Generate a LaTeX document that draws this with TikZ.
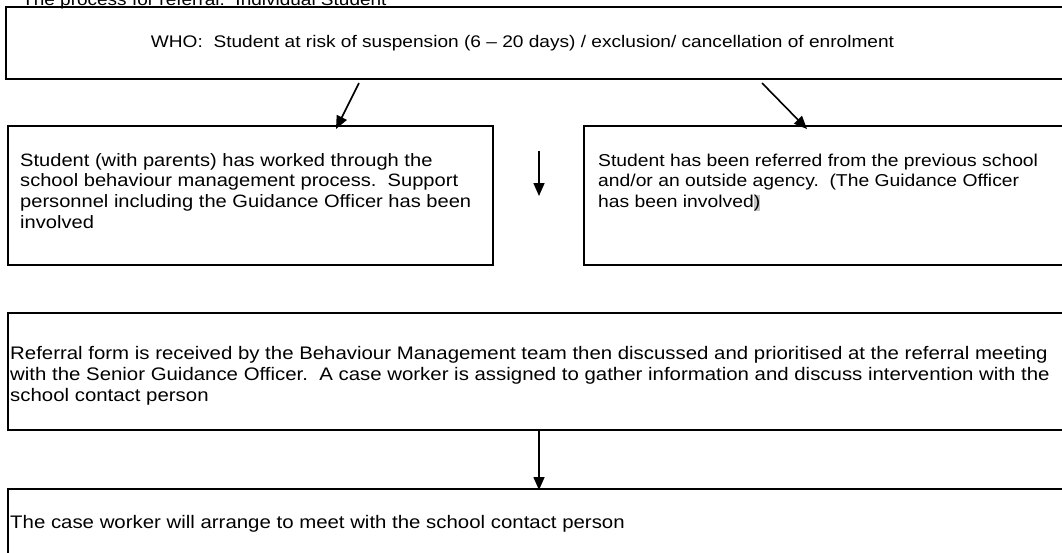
\documentclass[tikz,border=0pt]{standalone}
\usepackage{graphicx}
\usepackage{fontspec}
\setmainfont{Liberation Sans}
\usetikzlibrary{arrows.meta}
\newcommand{\sqz}[1]{\scalebox{1}[0.89]{\begin{tabular}[t]{@{}l@{}}#1\end{tabular}}}
\begin{document}
\begin{tikzpicture}[x=1pt,y=-1pt,
  boxline/.style={draw=black,line width=2.4pt},
  txt/.style={inner sep=0pt,anchor=base west,font=\fontsize{20.1}{23.4}\selectfont},
  conn/.style={line width=1.6pt,-{Triangle[length=13pt,width=11pt]}}]
\useasboundingbox (0,0) rectangle (1062,552);
% title (partly cut off by the page top)
\node[inner sep=0pt,anchor=base west,font=\fontsize{19}{22}\selectfont] (title) at (22,5) {\scalebox{1}[0.88]{The process for referral:\ \ Individual Student}};
% top box
\draw[boxline] (6,7) rectangle (1075,79);
\node[inner sep=0pt,anchor=base,font=\fontsize{19.1}{22}\selectfont] (whotext) at (522.5,47) {\scalebox{1}[0.88]{WHO:\ \ Student at risk of suspension (6 -- 20 days) / exclusion/ cancellation of enrolment}};
% left box
\draw[boxline] (8,126) rectangle (493,265);
\node[txt] (lefttext) at (20,166) {\sqz{Student (with parents) has worked through the\\school behaviour management process.\ \ Support\\personnel including the Guidance Officer has been\\involved}};
% right box
\draw[boxline] (584,126) rectangle (1075,265);
\node[txt,font=\fontsize{19.3}{23.4}\selectfont] (righttext) at (598,166) {\sqz{Student has been referred from the previous school\\and/or an outside agency.\ \ (The Guidance Officer\\has been involved{\setlength\fboxsep{0pt}\colorbox{black!22}{)}}}};
% referral box
\draw[boxline] (8,313) rectangle (1075,430);
\node[txt,font=\fontsize{20.4}{23.8}\selectfont] (reftext) at (10,359) {\sqz{Referral form is received by the Behaviour Management team then discussed and prioritised at the referral meeting\\with the Senior Guidance Officer.\ \ A case worker is assigned to gather information and discuss intervention with the\\school contact person}};
% case worker box
\draw[boxline] (8,489) rectangle (1075,570);
\node[txt,font=\fontsize{20.4}{23.8}\selectfont] (casetext) at (10,528) {\sqz{The case worker will arrange to meet with the school contact person}};
% connectors
\coordinate (a1s) at (359,83); \coordinate (a1e) at (336,129);
\coordinate (a2s) at (762,83); \coordinate (a2e) at (807,129);
\coordinate (a3s) at (539,151); \coordinate (a3e) at (539,196);
\coordinate (a4s) at (539,430); \coordinate (a4e) at (539,490);
\draw[conn] (a1s) -- (a1e);
\draw[conn] (a2s) -- (a2e);
\draw[conn] (a3s) -- (a3e);
\draw[conn] (a4s) -- (a4e);
\end{tikzpicture}
\end{document}
